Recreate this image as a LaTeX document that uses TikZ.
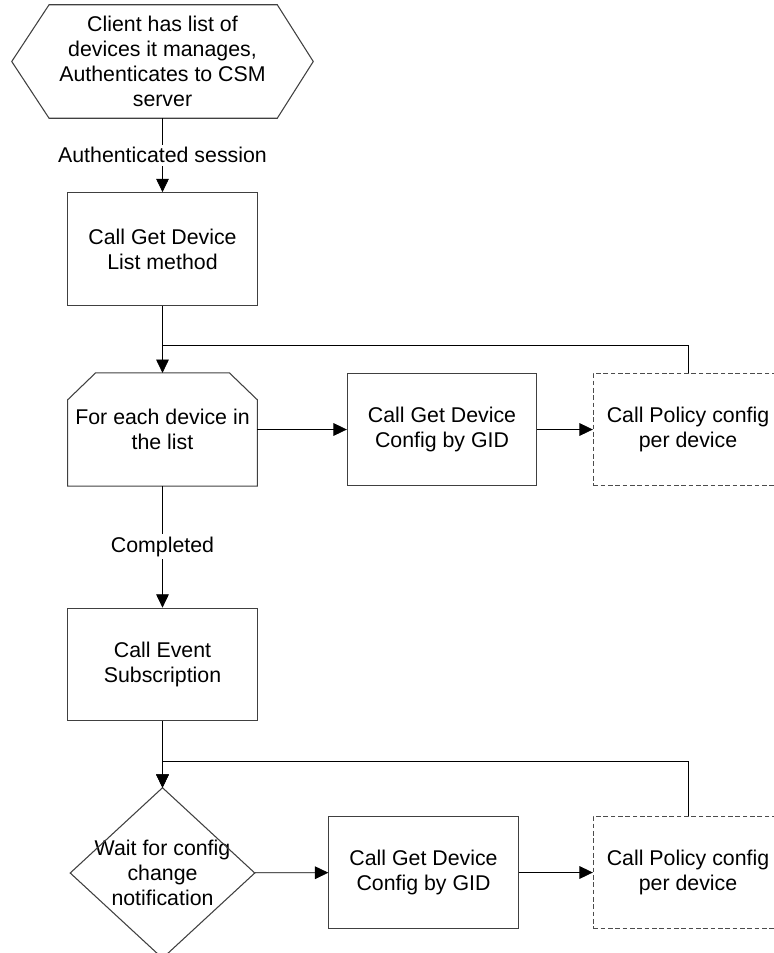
\documentclass[tikz,border=0pt]{standalone}
\usepackage{fontspec}
\setmainfont{Liberation Sans}
\usetikzlibrary{arrows.meta}
\begin{document}
\begin{tikzpicture}[x=0.75pt,y=-0.75pt,
 every node/.style={font=\fontsize{16}{18.75}\selectfont, align=center, inner sep=0pt},
 outline/.style={draw=black!75, line width=0.8pt},
 box/.style={outline, minimum width=142pt, minimum height=84.5pt},
 dbox/.style={box, dash pattern=on 3.5pt off 2pt, draw=black!70},
 ghost/.style={minimum width=142pt, minimum height=84.5pt},
 arr/.style={-{Triangle[length=10pt,width=9.5pt]}, line width=0.6pt},
 conn/.style={line width=0.6pt},
 lbl/.style={fill=white, inner sep=2pt}]
\useasboundingbox (0,0) rectangle (774,953);
\clip (0,0) rectangle (774,953);

% start (preparation hexagon)
\node[minimum width=225.75pt, minimum height=84.75pt] (start) at (162.5,61.5)
  {Client has list of\\devices it manages,\\Authenticates to CSM\\server};
\draw[outline] (start.west) -- ([xshift=28pt]start.north west) -- ([xshift=-27pt]start.north east)
  -- (start.east) -- ([xshift=-27pt]start.south east) -- ([xshift=28pt]start.south west) -- cycle;

\node[box] (box1) at (162.5,249) {Call Get Device\\List method};

% loop limit
\node[ghost] (loop) at (162.5,429.5) {For each device in\\the list};
\draw[outline] ([yshift=-20.25pt]loop.north west) -- ([xshift=21pt]loop.north west)
  -- ([xshift=-21pt]loop.north east) -- ([yshift=-20.25pt]loop.north east)
  -- (loop.south east) -- (loop.south west) -- cycle;

\node[box] (cfg1) at (442,429.5) {Call Get Device\\Config by GID};
\node[dbox] (pol1) at (688,429.5) {Call Policy config\\per device};

\node[box] (event) at (162.5,664.5) {Call Event\\Subscription};

% decision diamond
\node[minimum width=138pt, minimum height=127.5pt] (wait) at (162.5,873) {Wait for config\\change\\notification};
\draw[outline] (wait.north) -- (wait.east) -- (wait.south) -- (wait.west) -- cycle;

\node[box] (cfg2) at (423.5,872.5) {Call Get Device\\Config by GID};
\node[dbox] (pol2) at (688,872.5) {Call Policy config\\per device};

\coordinate (j1) at (162.5,345);
\coordinate (j2) at (162.5,761);

% connectors
\draw[arr] (start) -- node[lbl] {Authenticated session} (box1);
\draw[arr] (box1) -- (loop);
\draw[conn] (pol1.north) |- (j1);
\draw[arr] (loop) -- (cfg1);
\draw[arr] (cfg1) -- (pol1);
\draw[arr] (loop) -- node[lbl] {Completed} (event);
\draw[arr] (event) -- (wait);
\draw[arr] (pol2.north) |- (j2) -- (wait.north);
\draw[arr] (wait) -- (cfg2);
\draw[arr] (cfg2) -- (pol2);
\end{tikzpicture}
\end{document}
